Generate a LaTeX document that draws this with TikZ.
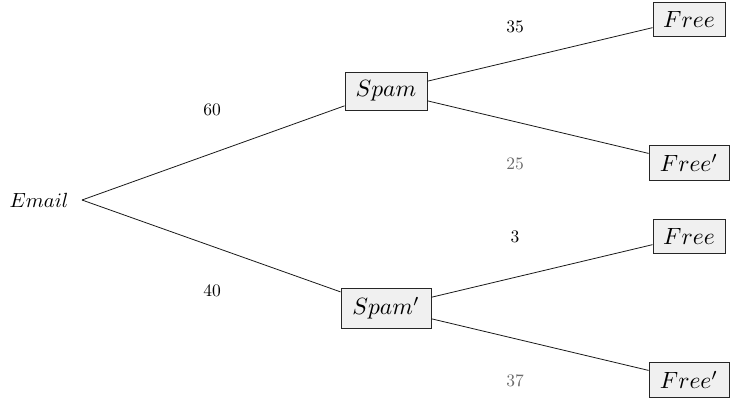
\documentclass[tikz,border=0pt]{standalone}
\usepackage{xcolor}
\usepackage{graphicx}
\newcommand{\bigbox}[1]{\scalebox{2.35}{$#1$}}
\newcommand{\numtxt}[1]{\scalebox{1.75}{#1}}
\begin{document}
\begin{tikzpicture}[x=1pt,y=-1pt,
  box/.style={draw=black!85,fill=black!6,line width=0.8pt,inner sep=0pt},
  root/.style={inner sep=0pt},
  num/.style={inner sep=0pt},
  gnum/.style={num,text=black!58},
  edge/.style={line width=0.8pt,black!90}]
\useasboundingbox (0,0) rectangle (731,400);
\node[root] (email) at (39,200) {\scalebox{2.05}{$Email$}};
\coordinate (e) at (82,200);
\node[box,minimum width=82,minimum height=38] (spam) at (386,91) {\bigbox{Spam}};
\node[box,minimum width=90,minimum height=40] (spamp) at (386,308) {\bigbox{Spam'}};
\node[box,minimum width=72,minimum height=34] (f1) at (689,19) {\bigbox{Free}};
\node[box,minimum width=80,minimum height=35] (f2) at (689,163) {\bigbox{Free'}};
\node[box,minimum width=72,minimum height=34] (f3) at (689,236) {\bigbox{Free}};
\node[box,minimum width=80,minimum height=35] (f4) at (689,380) {\bigbox{Free'}};
\draw[edge] (e) -- (spam);
\draw[edge] (e) -- (spamp);
\draw[edge] (spam) -- (f1);
\draw[edge] (spam) -- (f2);
\draw[edge] (spamp) -- (f3);
\draw[edge] (spamp) -- (f4);
\node[num] (n60) at (212,110) {\numtxt{60}};
\node[num] (n40) at (212,291) {\numtxt{40}};
\node[num] (n35) at (515,27) {\numtxt{35}};
\node[gnum] (n25) at (515,164) {\numtxt{25}};
\node[num] (n3) at (515,237) {\numtxt{3}};
\node[gnum] (n37) at (515,381) {\numtxt{37}};
\end{tikzpicture}
\end{document}
